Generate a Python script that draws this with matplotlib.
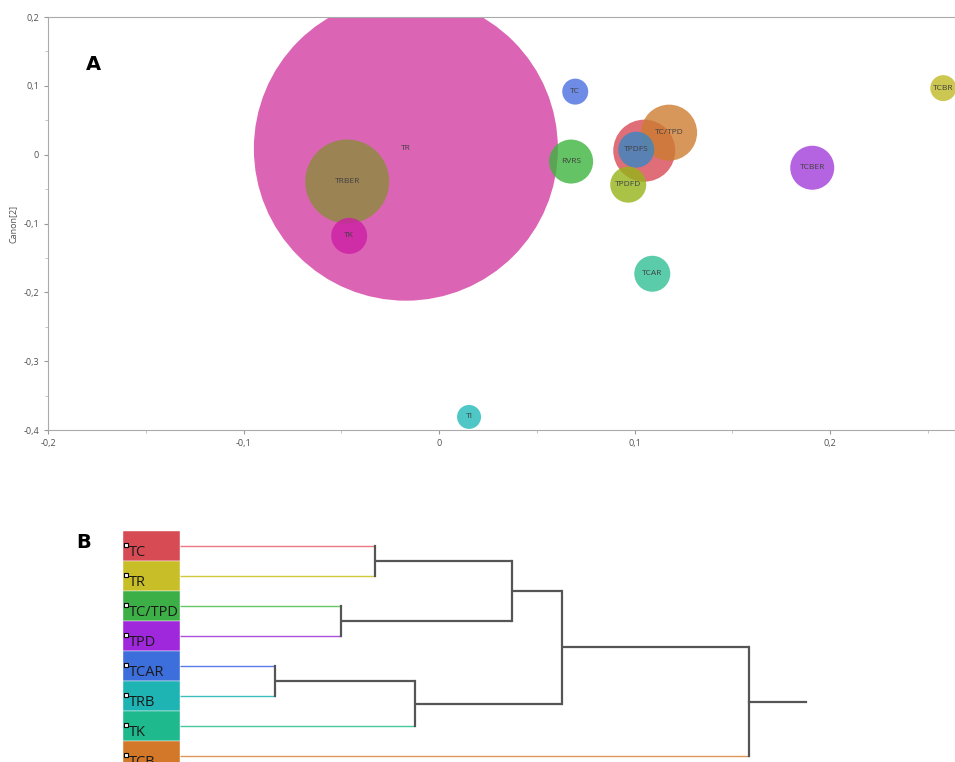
"""
Graphique A : bulles (Canon) et graphique B : dendrogramme
"""

import numpy as np
import matplotlib.pyplot as plt
from matplotlib.patches import Rectangle
from matplotlib.ticker import MultipleLocator, FuncFormatter

plt.rcParams['font.family'] = ['Open Sans', 'DejaVu Sans']

# ---- Données A : bulles ----
noms = ['TR', 'TRBER', 'TK', 'TI', 'TC', 'RVRS', '', 'TC/TPD', 'TPDFS', 'TPDFD', 'TCAR', 'TCBER', 'TCBR']
canon1 = [-0.017, -0.047, -0.046, 0.0153, 0.0696, 0.0675, 0.1049, 0.1176, 0.1008, 0.0967, 0.109, 0.1908, 0.2578]
canon2 = [0.0087, -0.039, -0.118, -0.381, 0.0916, -0.010, 0.0058, 0.032, 0.0073, -0.0436, -0.173, -0.019, 0.0967]
rayon = [152, 42, 18, 12, 13, 22, 31, 28, 18, 18, 18, 22, 13]  # rayon des bulles (px)

couleurs_bulles = ['#D33DA1', '#8C8C3C', '#CD1EA5', '#24BABA', '#4A6FE0', '#3DB43D', '#D94A56',
                   '#CD7C31', '#3787C3', '#95B418', '#31C095', '#A13DD9', '#C0BA24']

# ---- Données B : dendrogramme ----
feuilles = ['TC', 'TR', 'TC/TPD', 'TPD', 'TCAR', 'TRB', 'TK', 'TCB']
# (noeud a, noeud b, hauteur) -> nouveau noeud 8, 9, ...
fusions = [(0, 1, 1.95), (2, 3, 1.61), (4, 5, 0.95), (10, 6, 2.35),
           (8, 9, 3.32), (12, 11, 3.82), (13, 7, 5.69)]
racine = 6.26

couleurs_boites = ['#D74B55', '#C8BE28', '#3CAF46', '#A028DC', '#3C6EDC', '#1EB4B4', '#1EB98C', '#D27828']
couleurs_traits = ['#EB7882', '#D2C83C', '#64C864', '#AA50DC', '#5A78E6', '#3CBEBE', '#46C8A0', '#E1965A']

fig = plt.figure(figsize=(9.55, 7.62), dpi=100)
W, H = 955, 762

# ===== A =====
ax = fig.add_axes([48 / W, 1 - 430 / H, (955 - 48) / W, (430 - 17) / H])
tailles = [(2 * r * 0.72) ** 2 for r in rayon]
bulles = ax.scatter(canon1, canon2, s=tailles, c=couleurs_bulles, alpha=0.8, linewidths=0)
bulles.set_clip_on(True)
bulles.set_clip_box(ax.bbox)
for n, x, y in zip(noms, canon1, canon2):
    if n:
        ax.text(x, y, n, fontsize=6, color='#404040', ha='center', va='center')

ax.set_xlim(-0.2, 0.2638)
ax.set_ylim(-0.4, 0.2)
ax.xaxis.set_major_locator(MultipleLocator(0.1))
ax.xaxis.set_minor_locator(MultipleLocator(0.05))
ax.yaxis.set_major_locator(MultipleLocator(0.1))
ax.yaxis.set_minor_locator(MultipleLocator(0.05))
virgule = FuncFormatter(lambda v, p: ('%g' % round(v, 2)).replace('.', ','))
ax.xaxis.set_major_formatter(virgule)
ax.yaxis.set_major_formatter(virgule)
ax.tick_params(labelsize=6.5, colors='#999999', labelcolor='#505050', length=3, width=0.8)
ax.tick_params(which='minor', colors='#bbbbbb', length=2)
for cote in ['left', 'bottom', 'top']:
    ax.spines[cote].set_color('#aaaaaa')
    ax.spines[cote].set_zorder(5)
ax.spines['right'].set_visible(False)
ax.set_ylabel('Canon[2]', fontsize=6.5, color='#505050')
fig.text(93 / W, 1 - 65 / H, 'A', fontsize=14, fontweight='bold', ha='center', va='center',
         family=['DejaVu Sans'])

# ===== B =====
bx = fig.add_axes([123 / W, 0, (806 - 123) / W, (762 - 531) / H])
bx.set_xlim(-0.57, racine)
bx.set_ylim(7.2, -0.5)
bx.axis('off')

# boîtes de couleur avec les noms
for i, nom in enumerate(feuilles):
    bx.add_patch(Rectangle((-0.57, i - 0.5), 0.57, 1, facecolor=couleurs_boites[i],
                           edgecolor='white', linewidth=0.3))
    bx.plot(-0.54, i - 0.05, marker='s', markersize=3, markerfacecolor='white',
            markeredgecolor='black', markeredgewidth=0.8)
    bx.text(-0.51, i + 0.22, nom, fontsize=10.5, color='#1a1a1a', va='center', ha='left')

# positions des noeuds
pos_y = list(range(len(feuilles)))
pos_x = [0.0] * len(feuilles)
for a, b, h in fusions:
    for enfant in (a, b):
        couleur = couleurs_traits[enfant] if enfant < len(feuilles) else '#555555'
        lw = 1.0 if enfant < len(feuilles) else 1.6
        bx.plot([pos_x[enfant], h], [pos_y[enfant], pos_y[enfant]], color=couleur, lw=lw,
                solid_capstyle='butt')
    bx.plot([h, h], [pos_y[a], pos_y[b]], color='#555555', lw=1.6)
    pos_y.append((pos_y[a] + pos_y[b]) / 2)
    pos_x.append(h)

bx.plot([pos_x[-1], racine], [pos_y[-1], pos_y[-1]], color='#555555', lw=1.6, clip_on=False)
fig.text(84 / W, 1 - 542 / H, 'B', fontsize=14, fontweight='bold', ha='center', va='center',
         family=['DejaVu Sans'])

fig.savefig('out.png', dpi=100)
